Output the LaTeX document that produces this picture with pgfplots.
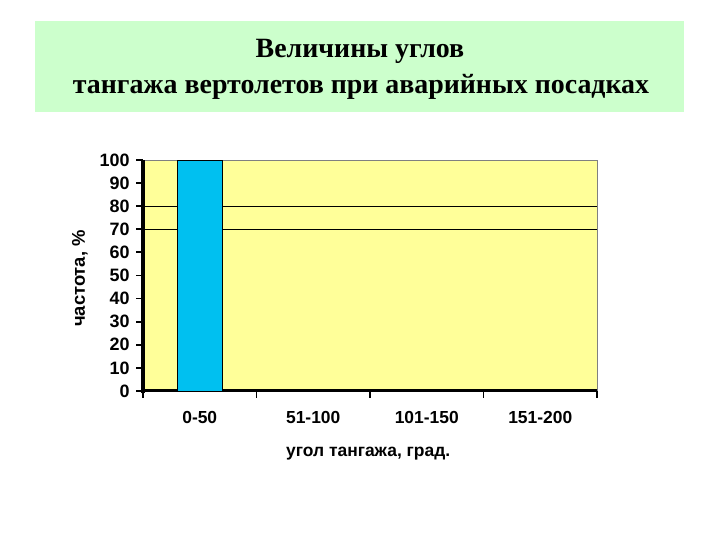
\documentclass[border=0pt]{standalone}
\usepackage{fontspec}
\setmainfont{Liberation Serif}
\newfontfamily\arial{Liberation Sans}
\usepackage{pgfplots}
\pgfplotsset{compat=1.18}
\definecolor{titlegreen}{RGB}{204,255,204}
\definecolor{plotyellow}{RGB}{255,255,153}
\definecolor{barcyan}{RGB}{0,192,240}
\begin{document}
\begin{tikzpicture}[x=1bp,y=1bp]
\useasboundingbox (0,0) rectangle (720,540);
\fill[titlegreen] (35,428) rectangle (684,519);
\node[anchor=base, font=\bfseries\fontsize{28}{30}\selectfont] at (360,482) {Величины углов};
\node[anchor=base, font=\bfseries\fontsize{28}{30}\selectfont] at (361,446) {тангажа вертолетов при аварийных посадках};
\begin{axis}[
at={(143bp,149bp)}, anchor=south west,
width=454bp, height=231bp, scale only axis,
xmin=-0.5, xmax=3.5, ymin=0, ymax=100,
clip=false,
axis x line*=bottom, axis y line*=left,
axis line style={black, -, line width=3pt},
axis background/.style={fill=plotyellow, draw=gray, thin},
ytick={0,10,...,100},
xtick={0,1,2,3},
xticklabels={0-50,51-100,101-150,151-200},
minor xtick={-0.5,0.5,1.5,2.5,3.5},
tick align=outside,
major tick length=7bp, minor tick length=7bp,
major x tick style={draw=none},
major y tick style={black, line width=1.8pt},
minor x tick style={black, line width=1.8pt},
extra y ticks={70,80},
extra y tick labels={},
extra y tick style={grid=major, major grid style={black, line width=0.8pt}},
tick label style={font=\arial\bfseries\fontsize{17.5}{19}\selectfont},
yticklabel style={font=\arial\bfseries\fontsize{18}{19}\selectfont, xshift=-3bp},
/pgf/number format/assume math mode=true,
xticklabel style={yshift=-10bp},
xlabel={угол тангажа, град.},
ylabel={частота, \%},
every axis x label/.style={at={(axis description cs:0.496,-0.27)}, anchor=center, font=\arial\bfseries\fontsize{17.5}{19}\selectfont},
every axis y label/.style={at={(axis description cs:-0.139,0.487)}, anchor=center, rotate=90, font=\arial\bfseries\fontsize{18.5}{19}\selectfont},
]
\addplot[ybar, bar width=0.4, fill=barcyan, draw=black, line width=0.6pt] coordinates {(0,100)};
% heavier left axis line and y ticks
\draw[black, line width=3.5pt] (axis cs:-0.5,-1) -- (axis cs:-0.5,100);
\pgfplotsinvokeforeach{0,10,...,100}{
  \draw[black, line width=1.8pt] ([xshift=-7bp]axis cs:-0.5,#1) -- (axis cs:-0.5,#1);
}
\end{axis}
\end{tikzpicture}
\end{document}
